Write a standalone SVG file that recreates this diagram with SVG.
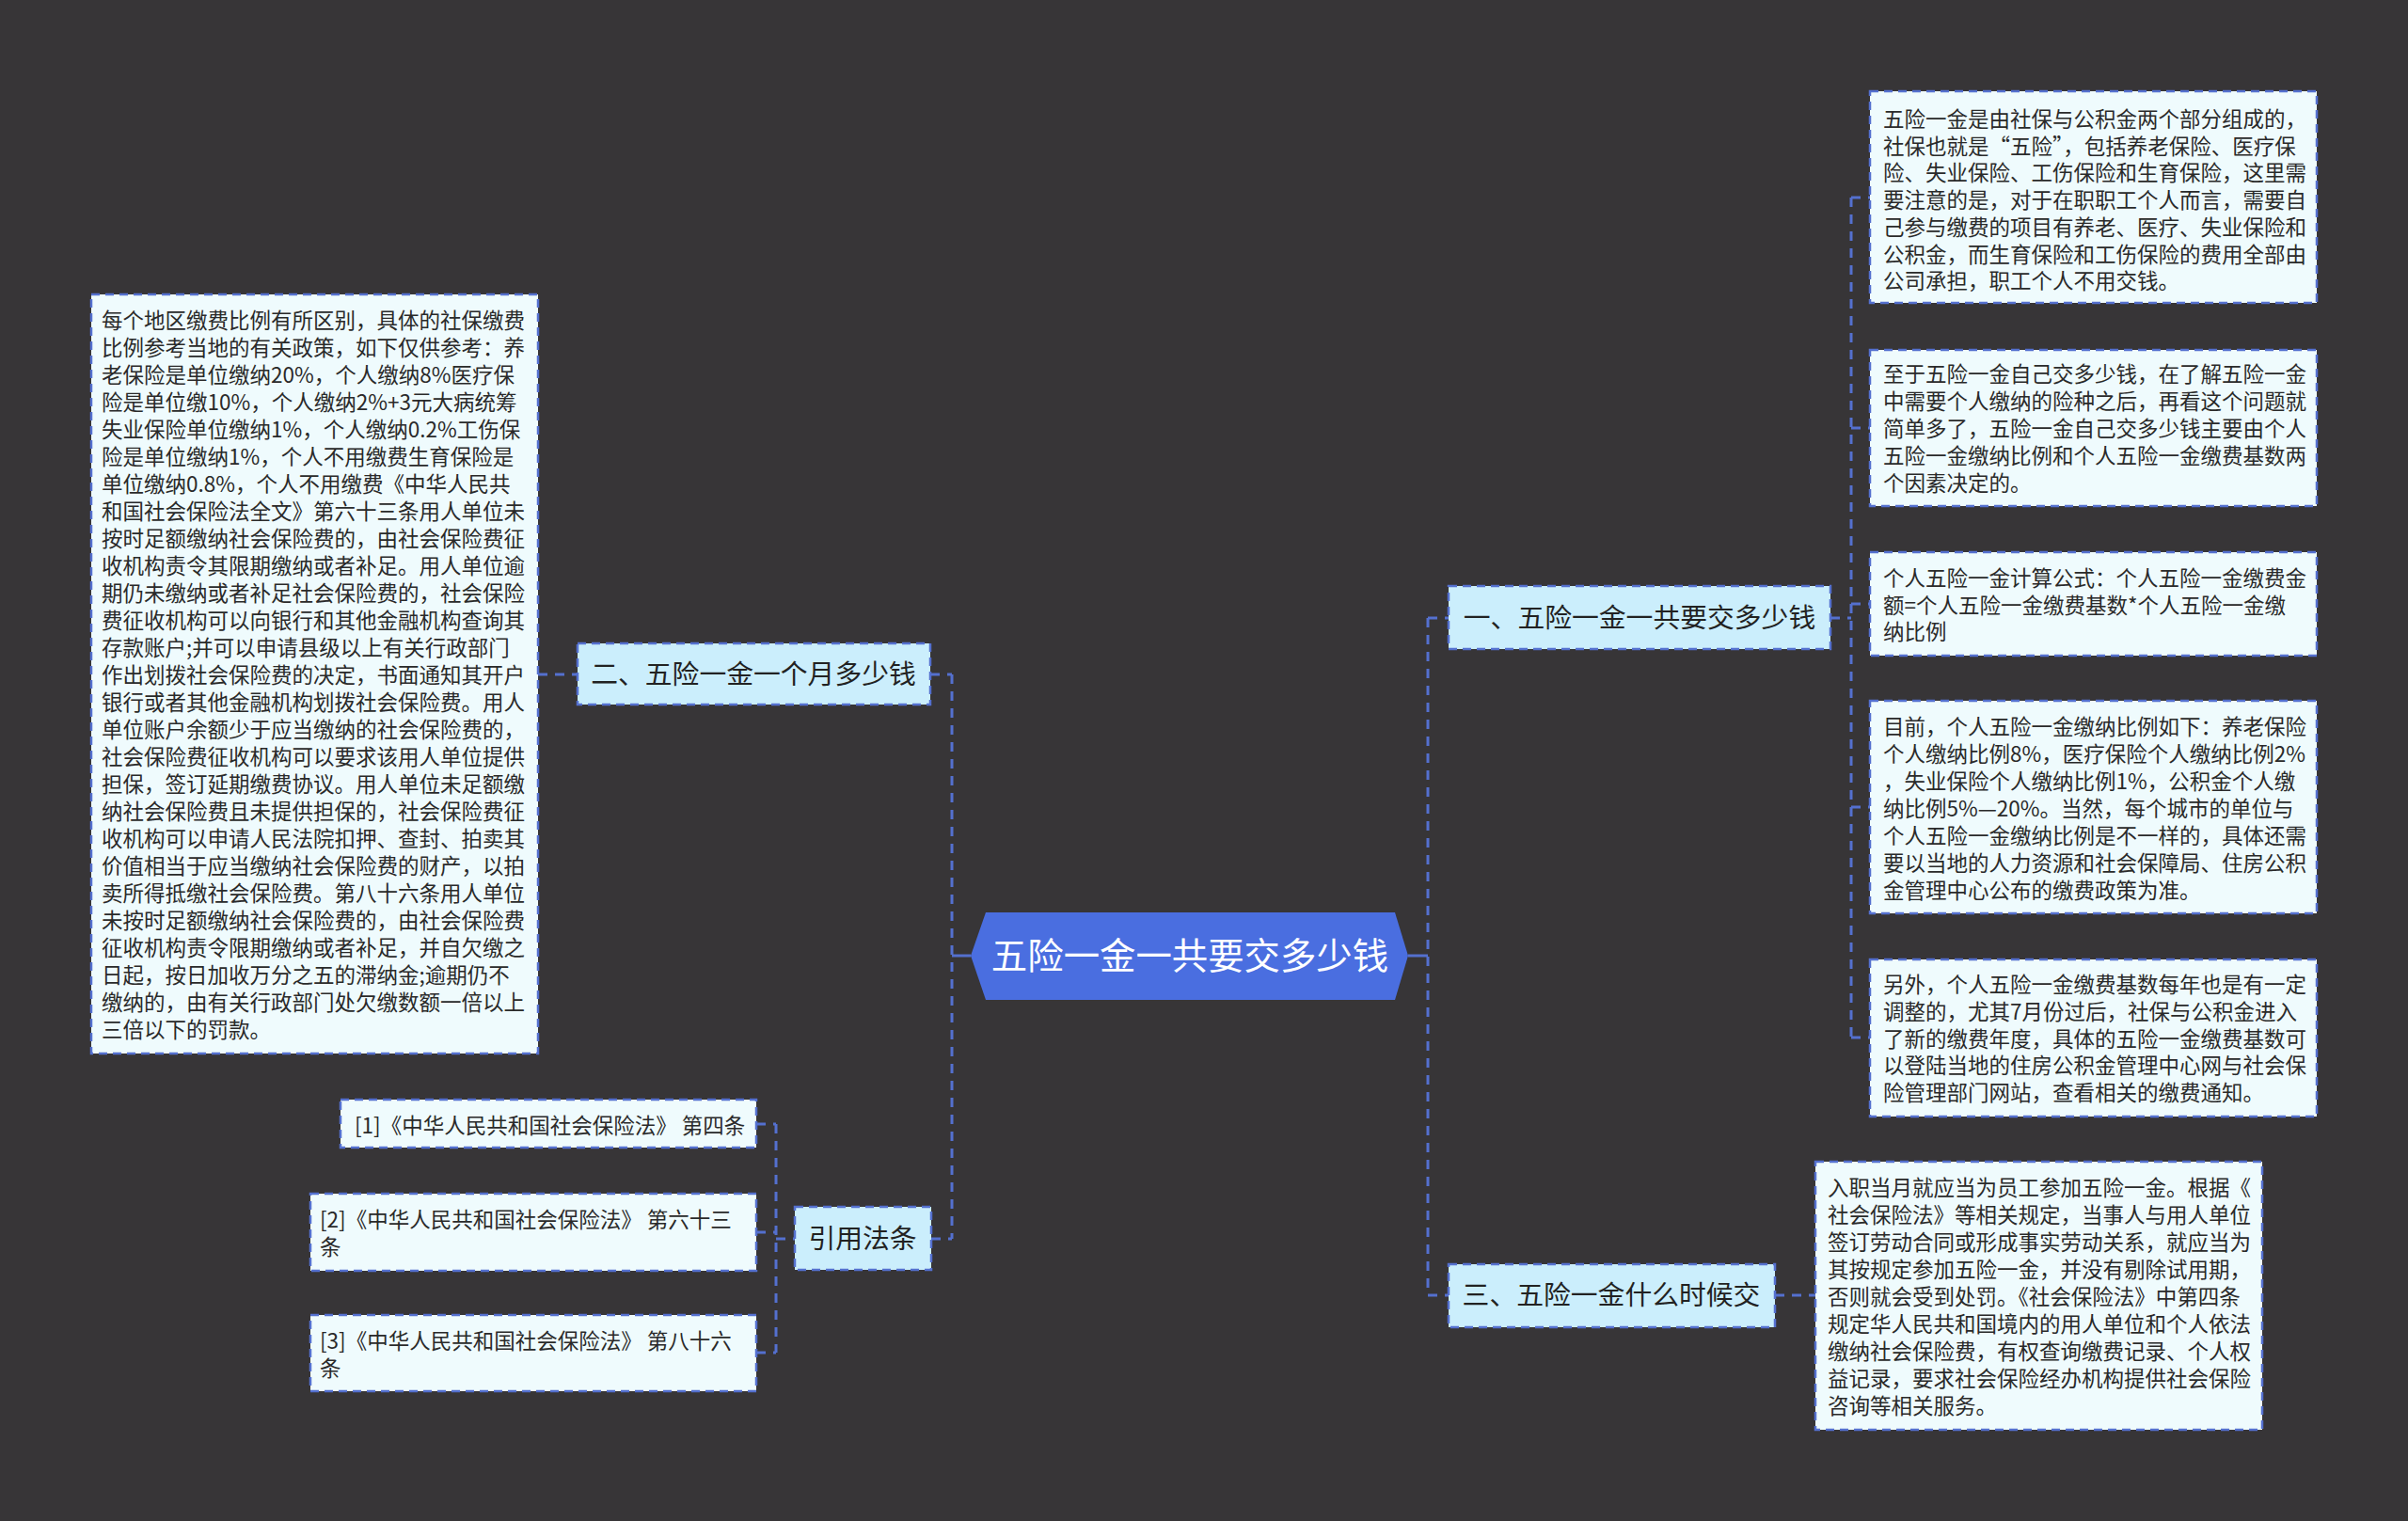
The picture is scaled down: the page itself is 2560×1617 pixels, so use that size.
<svg xmlns="http://www.w3.org/2000/svg" width="2560" height="1617" viewBox="0 0 2560 1617">
<style>
.bg{fill:#373537}
.box{fill:#effbfd;stroke:#5470cf;stroke-width:2.5;stroke-dasharray:9 6}
.node{fill:#cbeefc;stroke:#5470cf;stroke-width:2.5;stroke-dasharray:9 6}
.conn{fill:none;stroke:#5470cf;stroke-width:3;stroke-dasharray:10 8}
.solid{fill:none;stroke:#5470cf;stroke-width:3}
.t{font-family:"Noto Sans CJK SC","Noto Sans",sans-serif;font-size:22.5px;fill:#2a2a2a}
.nt{font-family:"Noto Sans CJK SC","Noto Sans",sans-serif;font-size:28.8px;fill:#222;text-anchor:middle}
.ct{font-family:"Noto Sans CJK SC","Noto Sans",sans-serif;font-size:38.4px;fill:#ffffff;text-anchor:middle}
</style>
<rect class="bg" x="0" y="0" width="2560" height="1617"/>

<g id="connectors">
  <path class="solid" d="M1012 1016 H1032"/>
  <path class="conn" d="M1012 717 V1317"/>
  <path class="conn" d="M989 717 H1012"/>
  <path class="conn" d="M990 1317 H1012"/>
  <path class="conn" d="M572 717 H614"/>
  <path class="conn" d="M825 1195 V1438"/>
  <path class="conn" d="M804 1195 H825"/>
  <path class="conn" d="M804 1310 H825"/>
  <path class="conn" d="M804 1438 H825"/>
  <path class="conn" d="M825 1317 H845"/>
  <path class="solid" d="M1497 1016 H1518"/>
  <path class="conn" d="M1518 657 V1377"/>
  <path class="conn" d="M1518 657 H1540"/>
  <path class="conn" d="M1518 1377 H1540"/>
  <path class="conn" d="M1946 657 H1968"/>
  <path class="conn" d="M1968 210 V1103"/>
  <path class="conn" d="M1968 210 H1988"/>
  <path class="conn" d="M1968 455 H1988"/>
  <path class="conn" d="M1968 642 H1988"/>
  <path class="conn" d="M1968 858 H1988"/>
  <path class="conn" d="M1968 1103 H1988"/>
  <path class="conn" d="M1887 1377 H1930"/>
</g>

<g id="central">
  <polygon points="1032,1016 1048,970 1483,970 1497,1016 1483,1063 1048,1063" fill="#4a6ee0"/>
  <text class="ct" x="1265" y="1030">五险一金一共要交多少钱</text>
</g>

<g id="node-er">
  <rect class="node" x="614" y="684" width="375" height="65"/>
  <text class="nt" x="801" y="727">二、五险一金一个月多少钱</text>
</g>

<g id="node-er-detail">
  <rect class="box" x="97" y="313" width="475" height="807"/>
  <text class="t">
    <tspan x="108" y="349">每个地区缴费比例有所区别，具体的社保缴费</tspan>
    <tspan x="108" dy="29">比例参考当地的有关政策，如下仅供参考：养</tspan>
    <tspan x="108" dy="29">老保险是单位缴纳20%，个人缴纳8%医疗保</tspan>
    <tspan x="108" dy="29">险是单位缴10%，个人缴纳2%+3元大病统筹</tspan>
    <tspan x="108" dy="29">失业保险单位缴纳1%，个人缴纳0.2%工伤保</tspan>
    <tspan x="108" dy="29">险是单位缴纳1%，个人不用缴费生育保险是</tspan>
    <tspan x="108" dy="29">单位缴纳0.8%，个人不用缴费《中华人民共</tspan>
    <tspan x="108" dy="29">和国社会保险法全文》第六十三条用人单位未</tspan>
    <tspan x="108" dy="29">按时足额缴纳社会保险费的，由社会保险费征</tspan>
    <tspan x="108" dy="29">收机构责令其限期缴纳或者补足。用人单位逾</tspan>
    <tspan x="108" dy="29">期仍未缴纳或者补足社会保险费的，社会保险</tspan>
    <tspan x="108" dy="29">费征收机构可以向银行和其他金融机构查询其</tspan>
    <tspan x="108" dy="29">存款账户;并可以申请县级以上有关行政部门</tspan>
    <tspan x="108" dy="29">作出划拨社会保险费的决定，书面通知其开户</tspan>
    <tspan x="108" dy="29">银行或者其他金融机构划拨社会保险费。用人</tspan>
    <tspan x="108" dy="29">单位账户余额少于应当缴纳的社会保险费的，</tspan>
    <tspan x="108" dy="29">社会保险费征收机构可以要求该用人单位提供</tspan>
    <tspan x="108" dy="29">担保，签订延期缴费协议。用人单位未足额缴</tspan>
    <tspan x="108" dy="29">纳社会保险费且未提供担保的，社会保险费征</tspan>
    <tspan x="108" dy="29">收机构可以申请人民法院扣押、查封、拍卖其</tspan>
    <tspan x="108" dy="29">价值相当于应当缴纳社会保险费的财产，以拍</tspan>
    <tspan x="108" dy="29">卖所得抵缴社会保险费。第八十六条用人单位</tspan>
    <tspan x="108" dy="29">未按时足额缴纳社会保险费的，由社会保险费</tspan>
    <tspan x="108" dy="29">征收机构责令限期缴纳或者补足，并自欠缴之</tspan>
    <tspan x="108" dy="29">日起，按日加收万分之五的滞纳金;逾期仍不</tspan>
    <tspan x="108" dy="29">缴纳的，由有关行政部门处欠缴数额一倍以上</tspan>
    <tspan x="108" dy="29">三倍以下的罚款。</tspan>
  </text>
</g>

<g id="node-ref">
  <rect class="node" x="845" y="1283" width="145" height="67"/>
  <text class="nt" x="917" y="1327">引用法条</text>
</g>

<g id="ref-1">
  <rect class="box" x="362" y="1169" width="442" height="51"/>
  <text class="t" x="377" y="1205">[1]《中华人民共和国社会保险法》 第四条</text>
</g>
<g id="ref-2">
  <rect class="box" x="330" y="1269" width="474" height="82"/>
  <text class="t"><tspan x="340" y="1305">[2]《中华人民共和国社会保险法》 第六十三</tspan><tspan x="340" dy="29">条</tspan></text>
</g>
<g id="ref-3">
  <rect class="box" x="330" y="1398" width="474" height="81"/>
  <text class="t"><tspan x="340" y="1434">[3]《中华人民共和国社会保险法》 第八十六</tspan><tspan x="340" dy="29">条</tspan></text>
</g>

<g id="node-yi">
  <rect class="node" x="1540" y="623" width="406" height="67"/>
  <text class="nt" x="1743" y="667">一、五险一金一共要交多少钱</text>
</g>

<g id="yi-1">
  <rect class="box" x="1988" y="97" width="475" height="225"/>
  <text class="t">
    <tspan x="2002" y="135">五险一金是由社保与公积金两个部分组成的，</tspan>
    <tspan x="2002" dy="28.7">社保也就是“五险”，包括养老保险、医疗保</tspan>
    <tspan x="2002" dy="28.7">险、失业保险、工伤保险和生育保险，这里需</tspan>
    <tspan x="2002" dy="28.7">要注意的是，对于在职职工个人而言，需要自</tspan>
    <tspan x="2002" dy="28.7">己参与缴费的项目有养老、医疗、失业保险和</tspan>
    <tspan x="2002" dy="28.7">公积金，而生育保险和工伤保险的费用全部由</tspan>
    <tspan x="2002" dy="28.7">公司承担，职工个人不用交钱。</tspan>
  </text>
</g>
<g id="yi-2">
  <rect class="box" x="1988" y="372" width="475" height="166"/>
  <text class="t">
    <tspan x="2002" y="406">至于五险一金自己交多少钱，在了解五险一金</tspan>
    <tspan x="2002" dy="29">中需要个人缴纳的险种之后，再看这个问题就</tspan>
    <tspan x="2002" dy="29">简单多了，五险一金自己交多少钱主要由个人</tspan>
    <tspan x="2002" dy="29">五险一金缴纳比例和个人五险一金缴费基数两</tspan>
    <tspan x="2002" dy="29">个因素决定的。</tspan>
  </text>
</g>
<g id="yi-3">
  <rect class="box" x="1988" y="587" width="475" height="110"/>
  <text class="t">
    <tspan x="2002" y="623">个人五险一金计算公式：个人五险一金缴费金</tspan>
    <tspan x="2002" dy="28.7">额=个人五险一金缴费基数*个人五险一金缴</tspan>
    <tspan x="2002" dy="28.7">纳比例</tspan>
  </text>
</g>
<g id="yi-4">
  <rect class="box" x="1988" y="745" width="475" height="226"/>
  <text class="t">
    <tspan x="2002" y="781">目前，个人五险一金缴纳比例如下：养老保险</tspan>
    <tspan x="2002" dy="29">个人缴纳比例8%，医疗保险个人缴纳比例2%</tspan>
    <tspan x="2002" dy="29">，失业保险个人缴纳比例1%，公积金个人缴</tspan>
    <tspan x="2002" dy="29">纳比例5%—20%。当然，每个城市的单位与</tspan>
    <tspan x="2002" dy="29">个人五险一金缴纳比例是不一样的，具体还需</tspan>
    <tspan x="2002" dy="29">要以当地的人力资源和社会保障局、住房公积</tspan>
    <tspan x="2002" dy="29">金管理中心公布的缴费政策为准。</tspan>
  </text>
</g>
<g id="yi-5">
  <rect class="box" x="1988" y="1020" width="475" height="167"/>
  <text class="t">
    <tspan x="2002" y="1055">另外，个人五险一金缴费基数每年也是有一定</tspan>
    <tspan x="2002" dy="28.8">调整的，尤其7月份过后，社保与公积金进入</tspan>
    <tspan x="2002" dy="28.8">了新的缴费年度，具体的五险一金缴费基数可</tspan>
    <tspan x="2002" dy="28.8">以登陆当地的住房公积金管理中心网与社会保</tspan>
    <tspan x="2002" dy="28.8">险管理部门网站，查看相关的缴费通知。</tspan>
  </text>
</g>

<g id="node-san">
  <rect class="node" x="1540" y="1344" width="347" height="67"/>
  <text class="nt" x="1713" y="1387">三、五险一金什么时候交</text>
</g>
<g id="san-1">
  <rect class="box" x="1930" y="1235" width="475" height="285"/>
  <text class="t">
    <tspan x="1943" y="1271">入职当月就应当为员工参加五险一金。根据《</tspan>
    <tspan x="1943" dy="29">社会保险法》等相关规定，当事人与用人单位</tspan>
    <tspan x="1943" dy="29">签订劳动合同或形成事实劳动关系，就应当为</tspan>
    <tspan x="1943" dy="29">其按规定参加五险一金，并没有剔除试用期，</tspan>
    <tspan x="1943" dy="29">否则就会受到处罚。《社会保险法》中第四条</tspan>
    <tspan x="1943" dy="29">规定华人民共和国境内的用人单位和个人依法</tspan>
    <tspan x="1943" dy="29">缴纳社会保险费，有权查询缴费记录、个人权</tspan>
    <tspan x="1943" dy="29">益记录，要求社会保险经办机构提供社会保险</tspan>
    <tspan x="1943" dy="29">咨询等相关服务。</tspan>
  </text>
</g>
</svg>
